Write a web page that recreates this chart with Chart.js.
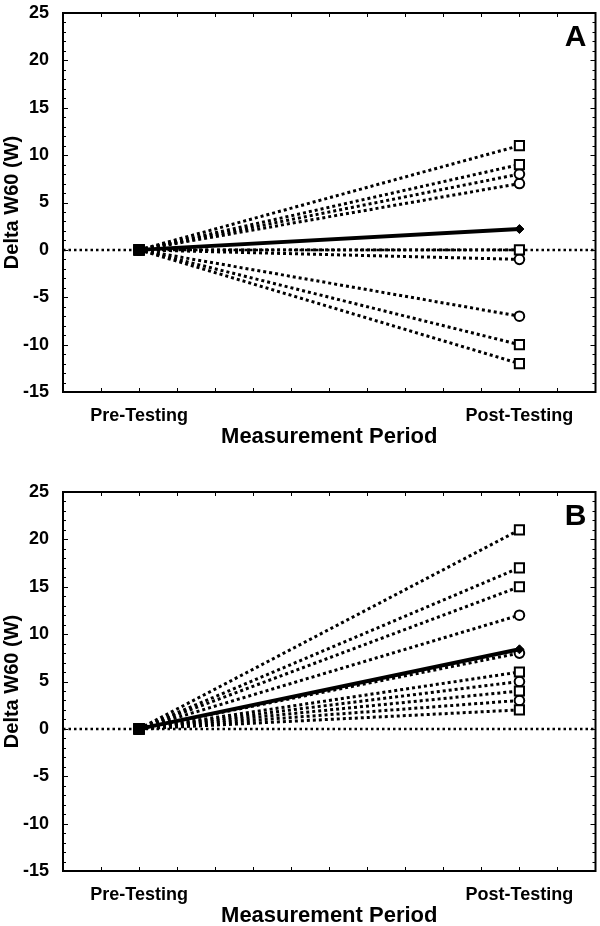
<!DOCTYPE html>
<html>
<head>
<meta charset="utf-8">
<script src="https://cdn.jsdelivr.net/npm/chart.js@4"></script>
<style>
  html, body { margin: 0; padding: 0; background: #fff; overflow: hidden; }
  canvas { display: block; }
</style>
</head>
<body>
<!-- 4px wider than the window: the line datasets force ~8.5px of right padding -->
<canvas id="panelA" width="604" height="479"></canvas>
<canvas id="panelB" width="604" height="479"></canvas>
<script>
// x positions of the two measurement periods on a 0..14 axis
const periodLabels = ["Pre-Testing", "Post-Testing"];
const periodX = [2, 12];
const xMin = 0, xMax = 14;
const yMin = -15, yMax = 25;

// change from baseline at pre-testing (all zero)
const preValue = 0;

// Panel A post-testing values
const squaresA = [11, 9, 0, -10, -12];
const circlesA = [8, 7, -1, -7];
const meanA = 2.2;

// Panel B post-testing values
const squaresB = [21, 17, 15, 6, 4, 2];
const circlesB = [12, 8, 5, 3];
const meanB = 8.4;

const FONT = "'Liberation Sans', Arial, Helvetica, sans-serif";

function subjectLine(post, style) {
    return {
        data: [{ x: periodX[0], y: preValue }, { x: periodX[1], y: post }],
        borderColor: "#000",
        borderWidth: 3,
        borderDash: [3, 3],
        borderCapStyle: "butt",
        pointStyle: style,
        pointRadius: style === "rect" ? [6.5, 6.5] : [5, 4.8],
        pointBorderWidth: 2,
        pointBorderColor: "#000",
        pointBackgroundColor: ["#000", "#fff"],
        fill: false
    };
}

function buildDatasets(squares, circles, mean) {
    const sets = [];
    // mean line on top
    sets.push({
        data: [{ x: periodX[0], y: preValue }, { x: periodX[1], y: mean }],
        borderColor: "#000",
        borderWidth: 4,
        pointStyle: "rectRot",
        pointRadius: [5, 4.5],
        pointBorderWidth: 1,
        pointBorderColor: "#000",
        pointBackgroundColor: "#000",
        fill: false
    });
    squares.forEach(v => sets.push(subjectLine(v, "rect")));
    circles.forEach(v => sets.push(subjectLine(v, "circle")));
    // dotted zero reference line across the whole axis
    sets.push({
        data: [{ x: xMin, y: 0 }, { x: xMax, y: 0 }],
        borderColor: "#000",
        borderWidth: 2.5,
        borderDash: [2.5, 3],
        borderCapStyle: "butt",
        pointRadius: 0,
        fill: false
    });
    return sets;
}

// box round the plot, inward ticks and the panel letter
const framePlugin = {
    id: "frame",
    afterDatasetsDraw(chart, args, opts) {
        const { ctx, chartArea: a, scales: { x, y } } = chart;
        ctx.save();
        ctx.strokeStyle = "#000";
        ctx.lineWidth = 1;
        ctx.beginPath();
        for (let v = xMin + 1; v < xMax; v++) {
            const px = Math.round(x.getPixelForValue(v)) + 0.5;
            ctx.moveTo(px, a.top); ctx.lineTo(px, a.top + 4);
            ctx.moveTo(px, a.bottom); ctx.lineTo(px, a.bottom - 4);
        }
        for (let v = yMin + 1; v < yMax; v++) {
            const py = Math.round(y.getPixelForValue(v)) + 0.5;
            const len = v % 5 === 0 ? 5 : 3;
            ctx.moveTo(a.left, py); ctx.lineTo(a.left + len, py);
            ctx.moveTo(a.right, py); ctx.lineTo(a.right - len, py);
        }
        ctx.stroke();
        ctx.lineWidth = 2;
        ctx.strokeRect(a.left, a.top, a.right - a.left, a.bottom - a.top);
        ctx.fillStyle = "#000";
        ctx.font = "bold 30px " + FONT;
        ctx.textAlign = "right";
        ctx.textBaseline = "middle";
        ctx.fillText(opts.letter, a.right - 9, a.top + 25);
        ctx.restore();
    }
};

function makeChart(id, letter, squares, circles, mean) {
    return new Chart(document.getElementById(id), {
        type: "line",
        data: { datasets: buildDatasets(squares, circles, mean) },
        plugins: [framePlugin],
        options: {
            responsive: false,
            animation: false,
            devicePixelRatio: 1,
            layout: { padding: { top: 13, right: 0, bottom: 29, left: 0 } },
            plugins: {
                legend: { display: false },
                tooltip: { enabled: false },
                frame: { letter: letter }
            },
            scales: {
                x: {
                    type: "linear",
                    min: xMin,
                    max: xMax,
                    afterFit(scale) {
                        scale.height = 58;
                        scale.paddingLeft = 0;
                        scale.paddingRight = 0;
                    },
                    grid: { display: false },
                    border: { display: false },
                    ticks: {
                        stepSize: 1,
                        autoSkip: false,
                        maxRotation: 0,
                        padding: 5,
                        color: "#000",
                        font: { family: FONT, size: 18, weight: "bold" },
                        callback: v => {
                            const i = periodX.indexOf(v);
                            return i >= 0 ? periodLabels[i] : "";
                        }
                    },
                    title: {
                        display: true,
                        text: "Measurement Period",
                        color: "#000",
                        padding: { top: 4, bottom: 0 },
                        font: { family: FONT, size: 22, weight: "bold" }
                    }
                },
                y: {
                    min: yMin,
                    max: yMax,
                    afterFit(scale) {
                        scale.width = 63;
                        scale.paddingTop = 0;
                        scale.paddingBottom = 0;
                    },
                    grid: { display: false },
                    border: { display: false },
                    ticks: {
                        stepSize: 5,
                        padding: 6,
                        color: "#000",
                        font: { family: FONT, size: 18, weight: "bold" }
                    },
                    title: {
                        display: true,
                        text: "Delta W60 (W)",
                        color: "#000",
                        padding: { top: 0, bottom: 0 },
                        font: { family: FONT, size: 20, weight: "bold" }
                    }
                }
            }
        }
    });
}

makeChart("panelA", "A", squaresA, circlesA, meanA);
makeChart("panelB", "B", squaresB, circlesB, meanB);
</script>
</body>
</html>
